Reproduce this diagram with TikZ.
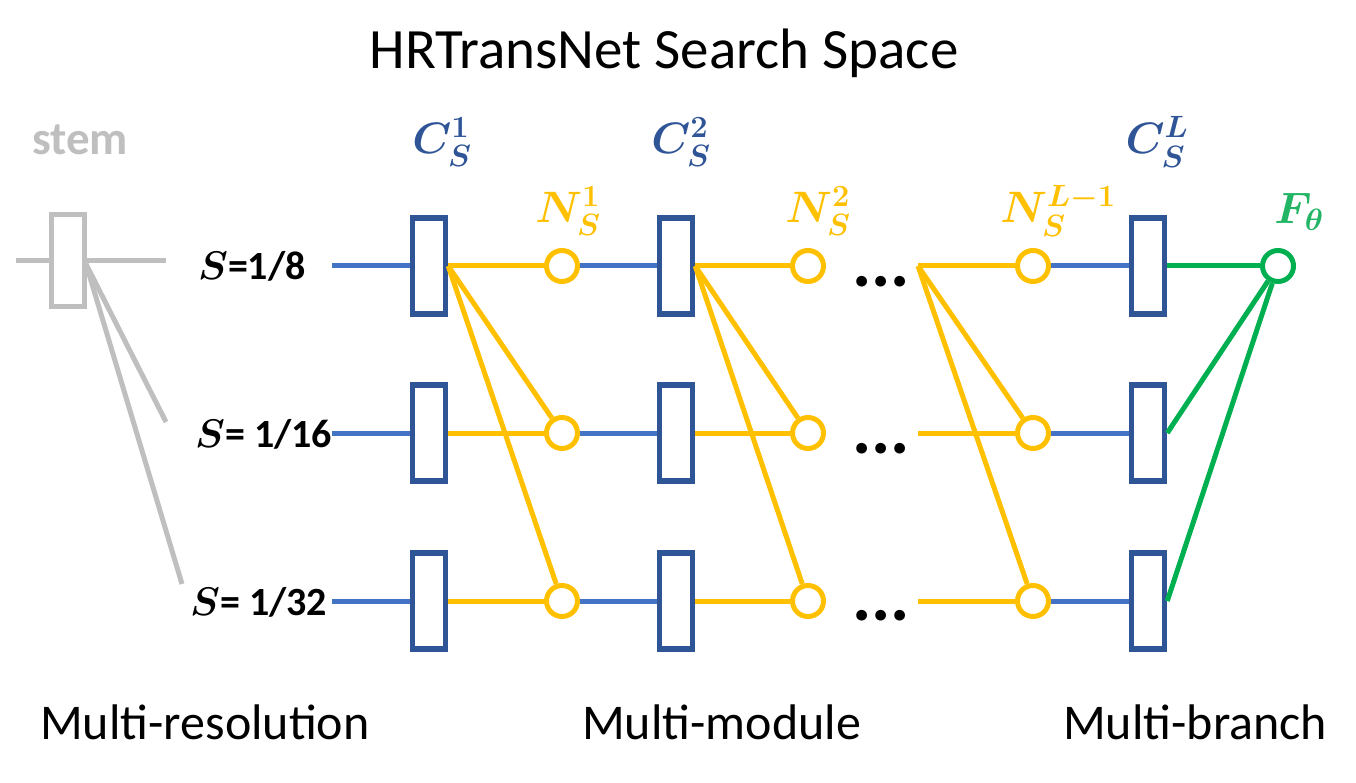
\RequirePackage{fix-cm}
\documentclass[tikz,border=0pt]{standalone}
\usepackage[no-math]{fontspec}
\setmainfont{Carlito}
\usepackage{amsmath,bm}
\definecolor{boxblue}{HTML}{2F5597}
\definecolor{lineblue}{HTML}{4472C4}
\definecolor{gold}{HTML}{FFC000}
\definecolor{grn}{HTML}{00B050}
\definecolor{grntxt}{HTML}{22B566}
\definecolor{stemgray}{HTML}{BFBFBF}
\tikzset{
  cbox/.style={draw=boxblue, line width=5.5pt, rectangle, minimum width=33pt, minimum height=96pt, inner sep=0pt},
  sbox/.style={draw=stemgray, line width=5pt, rectangle, minimum width=33pt, minimum height=92pt, inner sep=0pt},
  ncirc/.style={draw=gold, line width=5pt, circle, minimum size=31pt, inner sep=0pt},
  fcirc/.style={draw=grn, line width=5pt, circle, minimum size=31pt, inner sep=0pt},
  bl/.style={draw=lineblue, line width=5pt},
  yl/.style={draw=gold, line width=5pt},
  gl/.style={draw=grn, line width=5pt},
  sl/.style={draw=stemgray, line width=5pt},
  bigtxt/.style={font=\fontsize{57}{60}\selectfont, inner sep=0pt},
  captxt/.style={font=\fontsize{50}{56}\selectfont, inner sep=0pt, anchor=base west},
  stxt/.style={font=\fontsize{40}{44}\selectfont\bfseries\boldmath, inner sep=0pt, anchor=base west},
  mlab/.style={font=\fontsize{44}{50}\selectfont\boldmath, inner sep=0pt},
  dots/.style={font=\fontsize{72}{74}\selectfont\bfseries, inner sep=0pt, anchor=base west}
}
\begin{document}
\begin{tikzpicture}[x=1pt,y=-1pt]
\useasboundingbox (0,0) rectangle (1356,783);
% title
\node[bigtxt, anchor=base] (title) at (664,69) {HRTransNet Search Space};
% stem
\node[font=\fontsize{47}{50}\selectfont\bfseries, text=stemgray, inner sep=0pt, anchor=base west] (stemt) at (32,155) {stem};
\node[sbox] (stem) at (68,261) {};
\coordinate (sl0) at (16,261);
\coordinate (sr0) at (166,261);
\coordinate (so) at (86,264);
\coordinate (s2) at (166,422);
\coordinate (s3) at (182,584);
\draw[sl] (sl0) -- (stem.west);
\draw[sl] (stem.east |- sr0) -- (sr0);
\draw[sl] (so) -- (s2);
\draw[sl] (so) -- (s3);
% scale labels
\node[stxt] (r1) at (198,280) {$\bm{S}$=1/8};
\node[stxt] (r2) at (195,447) {$\bm{S}$= 1/16};
\node[stxt] (r3) at (190,615) {$\bm{S}$= 1/32};
\coordinate (a1) at (332,266);
\coordinate (a2) at (332,433);
\coordinate (a3) at (332,601);
% columns
\foreach \i/\y in {1/266,2/433,3/601}{
  \node[cbox] (ca\i) at (429,\y) {};
  \node[ncirc] (na\i) at (562,\y) {};
  \node[cbox] (cb\i) at (676,\y) {};
  \node[ncirc] (nb\i) at (808,\y) {};
  \coordinate (d\i) at (918,\y);
  \node[ncirc] (nc\i) at (1033,\y) {};
  \node[cbox] (cl\i) at (1148,\y) {};
}
\node[fcirc] (F) at (1278,266) {};
% blue lines
\foreach \i in {1,2,3}{
  \draw[bl] (a\i) -- (ca\i.west);
  \draw[bl] (na\i) -- (cb\i.west);
  \draw[bl] (nc\i) -- (cl\i.west);
}
% yellow lines
\foreach \i in {1,2,3}{
  \draw[yl] (ca\i.east) -- (na\i);
  \draw[yl] (cb\i.east) -- (nb\i);
  \draw[yl] (d\i) -- (nc\i);
}
\draw[yl] (ca1.east) -- (na2);
\draw[yl] (ca1.east) -- (na3);
\draw[yl] (cb1.east) -- (nb2);
\draw[yl] (cb1.east) -- (nb3);
\draw[yl] (d1) -- (nc2);
\draw[yl] (d1) -- (nc3);
% green lines
\foreach \i in {1,2,3}{
  \draw[gl] (cl\i.east) -- (F);
}
% dots
\node[dots] (dt1) at (852,287) {...};
\node[dots] (dt2) at (852,453) {...};
\node[dots] (dt3) at (852,620) {...};
% math labels
\node[mlab, text=boxblue] (lc1) at (442,142) {$C_S^1$};
\node[mlab, text=boxblue] (lc2) at (681,142) {$C_S^2$};
\node[mlab, text=boxblue] (lcl) at (1157,142) {$C_S^L$};
\node[mlab, text=gold] (ln1) at (568,211) {$N_S^1$};
\node[mlab, text=gold] (ln2) at (818,211) {$N_S^2$};
\node[mlab, text=gold] (lnl) at (1058,211) {$N_S^{L-1}$};
\node[mlab, text=grntxt] (lf) at (1299,212) {$F_{\bm{\theta}}$};
% captions
\node[captxt] (m1) at (40,739) {Multi-resolution};
\node[captxt] (m2) at (582,739) {Multi-module};
\node[captxt] (m3) at (1063,739) {Multi-branch};
\end{tikzpicture}
\end{document}
